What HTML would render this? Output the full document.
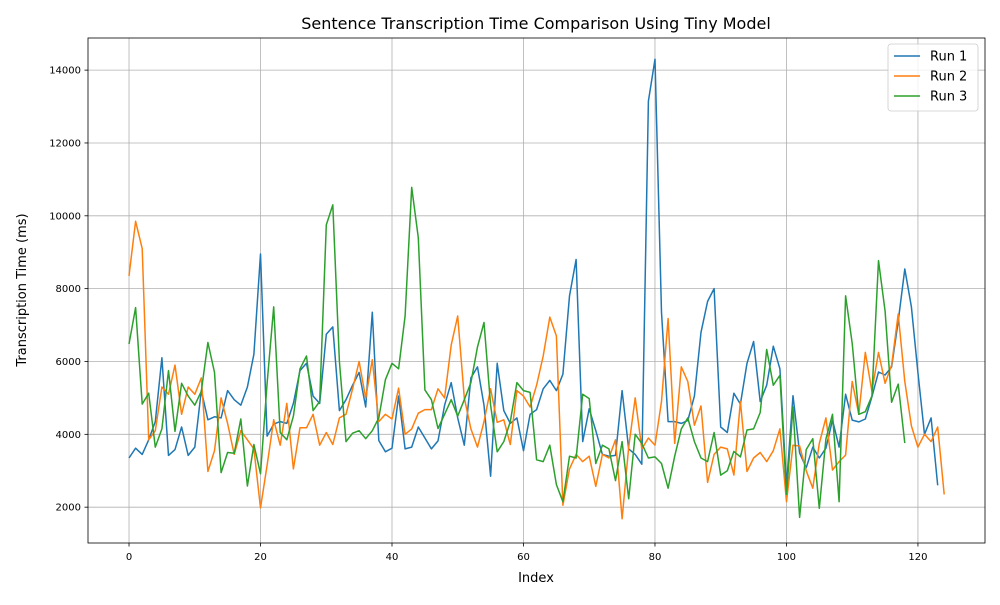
<!DOCTYPE html>
<html><head><meta charset="utf-8">
<style>
body{margin:0;background:#fff;font-family:"Liberation Sans","DejaVu Sans",sans-serif;}
svg text{font-family:"DejaVu Sans","Liberation Sans",sans-serif;fill:#000;}
</style></head>
<body>
<svg id="chart" width="1000" height="600" viewBox="0 0 1000 600" xmlns="http://www.w3.org/2000/svg">
<rect width="1000" height="600" fill="#fff"/>
<g id="grid"></g>
<g id="lines"></g>
<g id="axes"></g>
<text x="536" y="29" text-anchor="middle" font-size="16">Sentence Transcription Time Comparison Using Tiny Model</text>
<text x="536" y="582" text-anchor="middle" font-size="13">Index</text>
<text transform="translate(26,290) rotate(-90)" text-anchor="middle" font-size="13">Transcription Time (ms)</text>
<g id="legend"></g>
</svg>
<script>
const run1 = [3350,3620,3450,3850,4350,6100,3420,3580,4200,3420,3650,5200,4400,4480,4450,5200,4950,4800,5300,6200,8950,3950,4280,4350,4300,4850,5750,5950,5050,4850,6750,6950,4650,4950,5350,5700,4750,7350,3830,3520,3620,5050,3600,3650,4200,3900,3600,3820,4800,5420,4450,3700,5550,5850,4800,2850,5950,4650,4300,4450,3550,4550,4680,5250,5480,5200,5650,7800,8800,3800,4700,4100,3450,3400,3420,5200,3600,3450,3180,13150,14300,7350,4350,4350,4300,4380,5050,6800,7650,8000,4200,4050,5130,4830,5950,6550,4900,5350,6420,5800,2600,5060,3490,3080,3650,3350,3620,4390,3650,5100,4390,4340,4420,5030,5710,5630,5850,7100,8540,7500,5700,4000,4450,2600];
const run2 = [8350,9850,9100,3850,4100,5300,5100,5900,4550,5300,5100,5550,2980,3550,5000,4300,3450,4100,3850,3600,1980,3150,4400,3700,4850,3050,4180,4180,4550,3700,4050,3720,4450,4550,5250,6000,5000,6050,4350,4550,4420,5270,4000,4150,4580,4680,4680,5250,5000,6450,7250,5000,4150,3650,4350,5250,4330,4400,3720,5200,5050,4750,5350,6150,7220,6700,2050,3050,3450,3250,3400,2570,3450,3350,3850,1680,3650,5000,3600,3900,3700,4900,7180,3750,5850,5450,4250,4780,2680,3450,3650,3600,2880,4900,2980,3350,3500,3250,3550,4150,2150,3700,3680,3000,2520,3750,4450,3020,3250,3430,5450,4550,6250,5180,6250,5400,5900,7300,5450,4230,3650,4000,3800,4200,2350];
const run3 = [6480,7480,4830,5130,3650,4150,5750,4080,5400,5050,4800,5180,6520,5700,2950,3500,3480,4420,2580,3720,2920,5400,7500,4050,3850,4500,5800,6150,4650,4900,9750,10300,6000,3800,4030,4100,3880,4100,4450,5500,5950,5800,7250,10780,9400,5220,4950,4160,4550,4950,4500,4950,5420,6400,7070,4800,3520,3800,4350,5420,5200,5150,3300,3250,3700,2620,2150,3400,3350,5100,4980,3200,3700,3600,2730,3800,2230,4000,3750,3350,3380,3200,2520,3400,4150,4450,3800,3350,3250,4050,2880,3000,3530,3380,4120,4150,4600,6330,5350,5620,2350,4750,1720,3580,3880,1970,3870,4550,2150,7800,6500,4550,4620,5050,8770,7380,4880,5380,3760];
const seriesNames = ["Run 1","Run 2","Run 3"];
const xTicks = [0,20,40,60,80,100,120];
const yTicks = [2000,4000,6000,8000,10000,12000,14000];

const L=88,R=985,T=38,B=543;
const X0=-6.24,X1=130.2,Y0=1016,Y1=14882;
const xs=v=>L+(v-X0)/(X1-X0)*(R-L);
const ys=v=>B-(v-Y0)/(Y1-Y0)*(B-T);
const NS="http://www.w3.org/2000/svg";
function mk(tag,attrs,parent){const e=document.createElementNS(NS,tag);for(const k in attrs)e.setAttribute(k,attrs[k]);parent.appendChild(e);return e;}
const grid=document.getElementById('grid'),axes=document.getElementById('axes'),lines=document.getElementById('lines'),legend=document.getElementById('legend');
xTicks.forEach(t=>{const x=xs(t);
 const g=mk('line',{x1:x,x2:x,y1:T,y2:B,stroke:'#b0b0b0','stroke-width':0.8},grid);
 
 
 mk('line',{x1:x,x2:x,y1:B,y2:B+3.5,stroke:'#000','stroke-width':0.8},axes);
 const tx=mk('text',{x:x,y:B+17,'text-anchor':'middle','font-size':10},axes);tx.textContent=t;
 
 
});
yTicks.forEach(t=>{const y=ys(t);
 const g=mk('line',{x1:L,x2:R,y1:y,y2:y,stroke:'#b0b0b0','stroke-width':0.8},grid);
 
 
 mk('line',{x1:L-3.5,x2:L,y1:y,y2:y,stroke:'#000','stroke-width':0.8},axes);
 const tx=mk('text',{x:L-7,y:y+3.5,'text-anchor':'end','font-size':10},axes);tx.textContent=t;
 
 
});
mk('rect',{x:L,y:T,width:R-L,height:B-T,fill:'none',stroke:'#000','stroke-width':0.8},axes);
const colors=['#1f77b4','#ff7f0e','#2ca02c'];
[run1,run2,run3].forEach((d,i)=>{
 const p=mk('polyline',{points:d.map((v,j)=>xs(j).toFixed(1)+','+ys(v).toFixed(1)).join(' '),fill:'none',stroke:colors[i],'stroke-width':1.5,'stroke-linejoin':'round'},lines);
 
 
});
const lb=mk('rect',{x:888,y:44,width:90,height:67,rx:3,fill:'#fff','fill-opacity':0.8,stroke:'#ccc','stroke-width':0.8},legend);


seriesNames.forEach((n,i)=>{const y=56+i*20;
 const ln=mk('line',{x1:894,x2:920,y1:y,y2:y,stroke:colors[i],'stroke-width':1.5},legend);
 
 
 const t=mk('text',{x:930,y:y+4.5,'font-size':13},legend);t.textContent=n;
 
 
});
</script>
</body></html>
